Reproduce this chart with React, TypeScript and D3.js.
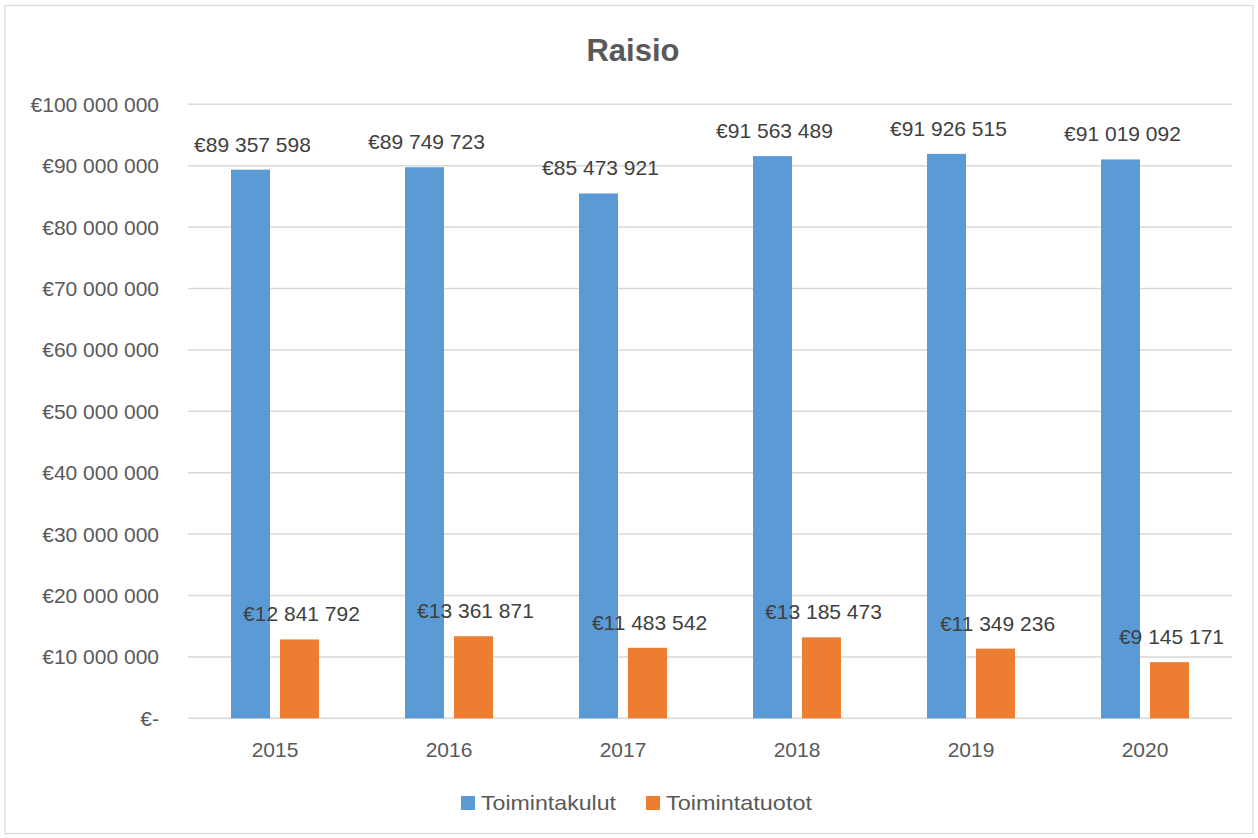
import React from "react";
import * as d3 from "d3";

const years = ["2015", "2016", "2017", "2018", "2019", "2020"];
const toimintakulut = [89357598, 89749723, 85473921, 91563489, 91926515, 91019092];
const toimintatuotot = [12841792, 13361871, 11483542, 13185473, 11349236, 9145171];
const seriesNames = ["Toimintakulut", "Toimintatuotot"];
const seriesColors = ["#5B9BD5", "#ED7D31"];
const yTicks = [0, 10000000, 20000000, 30000000, 40000000, 50000000, 60000000, 70000000, 80000000, 90000000, 100000000];

const W = 1258;
const H = 838;
const FONT = "'Liberation Sans', Arial, sans-serif";
const TEXT = "#595959";

function fmt(v: number): string {
  if (v === 0) return "€-";
  const s = Math.round(v).toString().replace(/\B(?=(\d{3})+(?!\d))/g, " ");
  return "€" + s;
}

export default function App() {
  const x0 = d3.scaleBand<string>().domain(years).range([188, 1232]).padding(0);
  const x1 = d3.scaleBand<string>().domain(seriesNames).range([43, 131]).paddingInner(10 / 49).paddingOuter(0);
  const y = d3.scaleLinear().domain([0, 100000000]).range([718.3, 104.3]);
  const series = [toimintakulut, toimintatuotot];
  const legendX = [461, 646];
  const legendW = [135, 146];

  return (
    <svg width={W} height={H} style={{ position: "absolute", left: 0, top: 0, background: "#fff" }} fontFamily={FONT}>
      <rect x={5} y={5.5} width={1248} height={828} fill="#fff" stroke="#d9d9d9" strokeWidth={1.2} />
      <text x={633} y={61} textAnchor="middle" fontSize={31} fontWeight="bold" fill={TEXT}>Raisio</text>
      {yTicks.map((t) => (
        <g key={t}>
          <line x1={188} x2={1232} y1={y(t)} y2={y(t)} stroke="#d9d9d9" strokeWidth={1.5} />
          <text x={159} y={y(t) + 7.5} textAnchor="end" fontSize={21} fill={TEXT}>{fmt(t)}</text>
        </g>
      ))}
      {years.map((yr, i) => (
        <g key={yr}>
          {series.map((vals, s) => {
            const bx = (x0(yr) as number) + (x1(seriesNames[s]) as number);
            const bw = x1.bandwidth();
            const top = y(vals[i]);
            return (
              <g key={s}>
                <rect x={bx} y={top} width={bw} height={y(0) - top} fill={seriesColors[s]} />
              </g>
            );
          })}
          <text x={(x0(yr) as number) + x0.bandwidth() / 2} y={757} textAnchor="middle" fontSize={21} fill={TEXT}>{yr}</text>
        </g>
      ))}
      {years.map((yr, i) => (
        <g key={"l" + yr}>
          {series.map((vals, s) => {
            const bx = (x0(yr) as number) + (x1(seriesNames[s]) as number);
            const bw = x1.bandwidth();
            return (
              <text key={s} x={bx + bw / 2 + 2} y={y(vals[i]) - 18} textAnchor="middle" fontSize={21} fill="#404040">{fmt(vals[i])}</text>
            );
          })}
        </g>
      ))}
      {seriesNames.map((n, s) => {
        const lx = legendX[s];
        return (
          <g key={n}>
            <rect x={lx} y={796} width={14} height={14} fill={seriesColors[s]} />
            <text x={lx + 20} y={810} fontSize={21} fill={TEXT} textLength={legendW[s]} lengthAdjust="spacingAndGlyphs">{n}</text>
          </g>
        );
      })}
    </svg>
  );
}
